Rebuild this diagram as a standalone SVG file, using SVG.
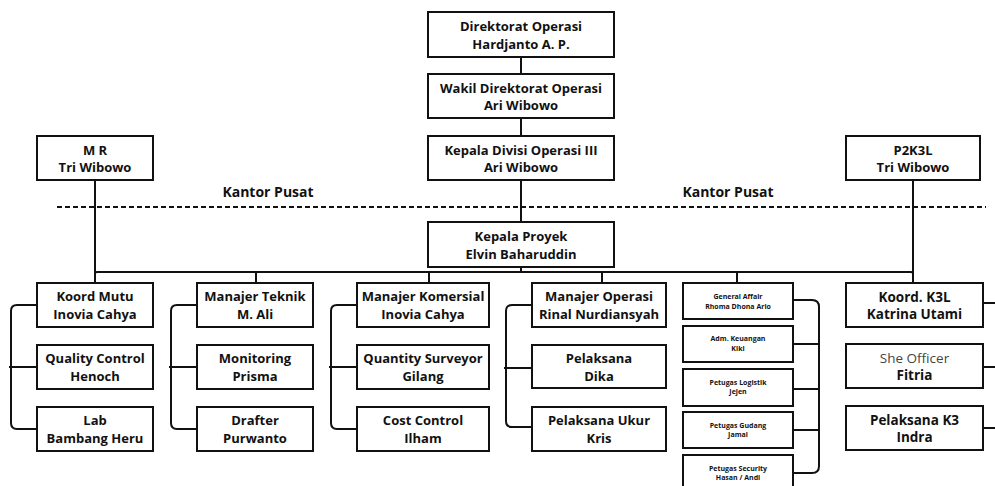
<svg xmlns="http://www.w3.org/2000/svg" width="995" height="486" viewBox="0 0 995 486">
<style>
.b{fill:#fff;stroke:#111;stroke-width:2}
.t{font-family:"Open Sans","Noto Sans","DejaVu Sans",sans-serif;font-weight:bold;font-size:13px;fill:#111;text-anchor:middle}
.s{font-size:7px}
.k{font-size:13.5px}
.r{font-weight:normal;fill:#444}
.c{fill:none;stroke:#111;stroke-width:2}
.d{fill:none;stroke:#111;stroke-width:2;stroke-dasharray:5 3}
.lb{font-family:"Open Sans","Noto Sans","DejaVu Sans",sans-serif;font-weight:bold;font-size:14px;fill:#111;text-anchor:middle}
</style>
<rect width="995" height="486" fill="#fff"/>
<g id="connectors">
<path class="c" d="M521 57V74M521 118V136M521 180V222M521 267V272"/>
<path class="c" d="M95 180V283M913 180V283"/>
<path class="c" d="M95 274Q95 272 97 272H911Q913 272 913 274"/>
<path class="c" d="M256 272V283M429 272V283M602 272V283M737 272V283"/>
<path class="c" d="M37 305H17Q11 305 11 311V423Q11 429 17 429H37M9 367H37"/>
<path class="c" d="M197 305H177Q171 305 171 311V423Q171 429 177 429H197M169 367H197"/>
<path class="c" d="M357 305H337Q331 305 331 311V423Q331 429 337 429H357M329 367H357"/>
<path class="c" d="M532 305H512Q506 305 506 311V421Q506 427 512 427H532M504 368H532"/>
<path class="c" d="M793 300H812Q819 300 819 307V466Q819 473 812 473H793M793 344H819M793 389H819M793 430H819"/>
<path class="c" d="M983 303H995M983 367H995M983 428H995"/>
<path class="d" d="M57 207H986"/>
</g>
<text class="lb" x="268" y="197">Kantor Pusat</text>
<text class="lb" x="728" y="197">Kantor Pusat</text>
<g id="n-direktorat"><rect class="b" x="428" y="12" width="186" height="45"/><text class="t" x="521" y="31">Direktorat Operasi</text><text class="t" x="521" y="48.5">Hardjanto A. P.</text></g>
<g id="n-wakil"><rect class="b" x="428" y="74" width="186" height="44"/><text class="t" x="521" y="92.5">Wakil Direktorat Operasi</text><text class="t" x="521" y="110">Ari Wibowo</text></g>
<g id="n-kadiv"><rect class="b" x="428" y="136" width="186" height="44"/><text class="t" x="521" y="154.5">Kepala Divisi Operasi III</text><text class="t" x="521" y="172">Ari Wibowo</text></g>
<g id="n-mr"><rect class="b" x="37" y="136" width="116" height="44"/><text class="t" x="95" y="154.5">M R</text><text class="t" x="95" y="172">Tri Wibowo</text></g>
<g id="n-p2k3l"><rect class="b" x="846" y="136" width="134" height="44"/><text class="t" x="913" y="154.5">P2K3L</text><text class="t" x="913" y="172">Tri Wibowo</text></g>
<g id="n-kapro"><rect class="b" x="428" y="222" width="186" height="45"/><text class="t" x="521" y="241">Kepala Proyek</text><text class="t" x="521" y="258.5">Elvin Baharuddin</text></g>

<g id="n-koordmutu"><rect class="b" x="37" y="283" width="116" height="44"/><text class="t" x="95" y="301">Koord Mutu</text><text class="t" x="95" y="318.5">Inovia Cahya</text></g>
<g id="n-qc"><rect class="b" x="37" y="345" width="116" height="44"/><text class="t" x="95" y="363">Quality Control</text><text class="t" x="95" y="380.5">Henoch</text></g>
<g id="n-lab"><rect class="b" x="37" y="407" width="116" height="44"/><text class="t" x="95" y="425">Lab</text><text class="t" x="95" y="442.5">Bambang Heru</text></g>

<g id="n-teknik"><rect class="b" x="197" y="283" width="116" height="44"/><text class="t" x="255" y="301">Manajer Teknik</text><text class="t" x="255" y="318.5">M. Ali</text></g>
<g id="n-monitoring"><rect class="b" x="197" y="345" width="116" height="44"/><text class="t" x="255" y="363">Monitoring</text><text class="t" x="255" y="380.5">Prisma</text></g>
<g id="n-drafter"><rect class="b" x="197" y="407" width="116" height="44"/><text class="t" x="255" y="425">Drafter</text><text class="t" x="255" y="442.5">Purwanto</text></g>

<g id="n-komersial"><rect class="b" x="357" y="283" width="132" height="44"/><text class="t" x="423" y="301">Manajer Komersial</text><text class="t" x="423" y="318.5">Inovia Cahya</text></g>
<g id="n-qs"><rect class="b" x="357" y="345" width="132" height="44"/><text class="t" x="423" y="363">Quantity Surveyor</text><text class="t" x="423" y="380.5">Gilang</text></g>
<g id="n-cc"><rect class="b" x="357" y="407" width="132" height="44"/><text class="t" x="423" y="425">Cost Control</text><text class="t" x="423" y="442.5">Ilham</text></g>

<g id="n-operasi"><rect class="b" x="532" y="283" width="134" height="44"/><text class="t" x="599" y="301">Manajer Operasi</text><text class="t" x="599" y="318.5">Rinal Nurdiansyah</text></g>
<g id="n-pelaksana"><rect class="b" x="532" y="345" width="134" height="43"/><text class="t" x="599" y="363">Pelaksana</text><text class="t" x="599" y="380.5">Dika</text></g>
<g id="n-ukur"><rect class="b" x="532" y="407" width="134" height="44"/><text class="t" x="599" y="425">Pelaksana Ukur</text><text class="t" x="599" y="442.5">Kris</text></g>

<g id="n-ga"><rect class="b" x="683" y="283" width="110" height="36"/><text class="t s" x="738" y="299">General Affair</text><text class="t s" x="738" y="308.5">Rhoma Dhona Ario</text></g>
<g id="n-adm"><rect class="b" x="683" y="326" width="110" height="36"/><text class="t s" x="738" y="341">Adm. Keuangan</text><text class="t s" x="738" y="350.5">Kiki</text></g>
<g id="n-logistik"><rect class="b" x="683" y="369" width="110" height="37"/><text class="t s" x="738" y="384.5">Petugas Logistik</text><text class="t s" x="738" y="394">Jejen</text></g>
<g id="n-gudang"><rect class="b" x="683" y="412" width="110" height="36"/><text class="t s" x="738" y="427.5">Petugas Gudang</text><text class="t s" x="738" y="437">Jamal</text></g>
<g id="n-security"><rect class="b" x="683" y="455" width="110" height="36"/><text class="t s" x="738" y="470.5">Petugas Security</text><text class="t s" x="738" y="480">Hasan / Andi</text></g>

<g id="n-k3l"><rect class="b" x="846" y="283" width="137" height="44"/><text class="t k" x="914.5" y="301.5">Koord. K3L</text><text class="t k" x="914.5" y="319">Katrina Utami</text></g>
<g id="n-she"><rect class="b" x="846" y="344" width="137" height="44"/><text class="t k r" x="914.5" y="362.5">She Officer</text><text class="t k" x="914.5" y="380">Fitria</text></g>
<g id="n-k3"><rect class="b" x="846" y="406" width="137" height="44"/><text class="t k" x="914.5" y="424.5">Pelaksana K3</text><text class="t k" x="914.5" y="442">Indra</text></g>
</svg>
